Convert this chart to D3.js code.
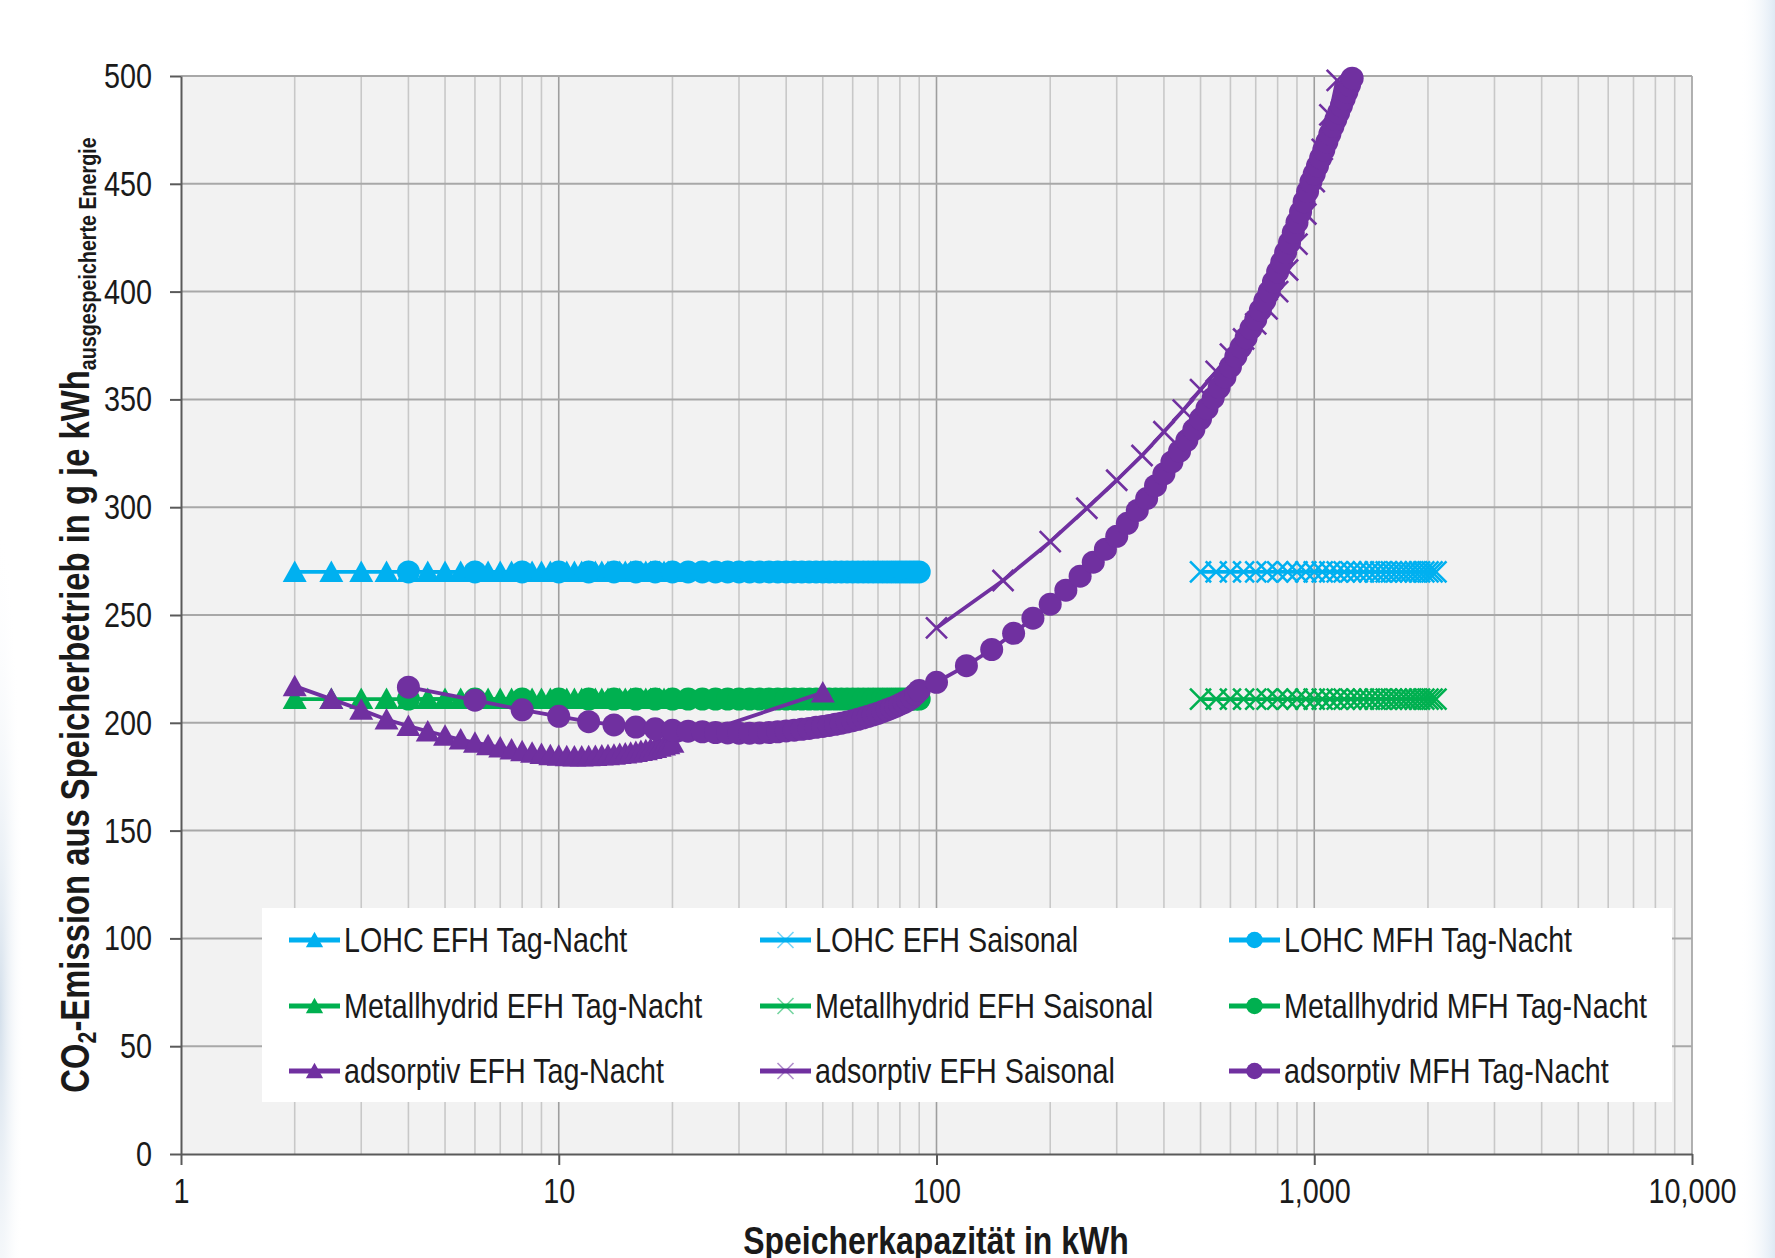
<!DOCTYPE html>
<html>
<head>
<meta charset="utf-8">
<script src="https://d3js.org/d3.v7.min.js"></script>
<title>CO2-Emission aus Speicherbetrieb</title>
<style>
body { margin: 0; background: #fff; }
svg { display: block; }
text { font-family: "Liberation Sans Narrow", "Arial Narrow", "Liberation Sans", sans-serif; fill: #1a1a1a; }
</style>
</head>
<body>
<svg width="1775" height="1258"></svg>
<script>

// ---- data ----
let xTicks = [1, 10, 100, 1000, 10000];
let yTicks = [0, 50, 100, 150, 200, 250, 300, 350, 400, 450, 500];

// EFH Tag-Nacht (triangles)
let xEfhTagNacht = [2, 2.5, 3, 3.5, 4, 4.5, 5, 5.5, 6, 6.5, 7, 7.5, 8, 8.5, 9, 9.5, 10, 10.5, 11, 11.5,
  12, 12.5, 13, 13.5, 14, 14.5, 15, 15.5, 16, 16.5, 17, 17.5, 18, 18.5, 19, 19.5, 20, 50];
let lohcEfhTagNacht = [270, 270, 270, 270, 270, 270, 270, 270, 270, 270, 270, 270, 270, 270, 270, 270, 270, 270, 270, 270,
  270, 270, 270, 270, 270, 270, 270, 270, 270, 270, 270, 270, 270, 270, 270, 270, 270, 270];
let metallEfhTagNacht = [211, 211, 211, 211, 211, 211, 211, 211, 211, 211, 211, 211, 211, 211, 211, 211, 211, 211, 211, 211,
  211, 211, 211, 211, 211, 211, 211, 211, 211, 211, 211, 211, 211, 211, 211, 211, 211, 211];
let adsEfhTagNacht = [217, 211, 206, 201.5, 198.5, 196, 194, 192.2, 190.8, 189.6, 188.5, 187.6, 186.8, 186.1, 185.5, 185, 184.7, 184.5, 184.4, 184.4,
  184.5, 184.6, 184.8, 185, 185.2, 185.5, 185.8, 186.1, 186.5, 186.9, 187.3, 187.8, 188.3, 188.9, 189.5, 190.1, 190.8, 214];

// EFH Saisonal (x markers)
let xEfhSaisonal = [500, 550, 600, 650, 700, 750, 800, 850, 900, 950, 1000, 1050, 1100, 1150, 1200, 1250, 1300,
  1350, 1400, 1450, 1500, 1550, 1600, 1650, 1700, 1750, 1800, 1850, 1900, 1950, 2000, 2050, 2100];
let lohcEfhSaisonal = [270, 270, 270, 270, 270, 270, 270, 270, 270, 270, 270, 270, 270, 270, 270, 270, 270,
  270, 270, 270, 270, 270, 270, 270, 270, 270, 270, 270, 270, 270, 270, 270, 270];
let metallEfhSaisonal = [211, 211, 211, 211, 211, 211, 211, 211, 211, 211, 211, 211, 211, 211, 211, 211, 211,
  211, 211, 211, 211, 211, 211, 211, 211, 211, 211, 211, 211, 211, 211, 211, 211];
let xAdsEfhSaisonal = [100, 150, 200, 250, 300, 350, 400, 450, 500, 550, 600, 650, 700, 750, 800, 850, 900,
  950, 1000, 1050, 1100, 1150];
let adsEfhSaisonal = [244, 266, 284, 299.5, 312.5, 324, 335, 345, 354.5, 363, 371, 378, 385, 392, 400, 410, 422,
  436, 451, 466, 482, 498];

// MFH Tag-Nacht (circles)
let xMfhTagNacht = [4, 6, 8, 10, 12, 14, 16, 18, 20, 22, 24, 26, 28, 30, 32, 34, 36, 38, 40, 42, 44, 46, 48, 50,
  52, 54, 56, 58, 60, 62, 64, 66, 68, 70, 72, 74, 76, 78, 80, 82, 84, 86, 88, 90];
let lohcMfhTagNacht = [270, 270, 270, 270, 270, 270, 270, 270, 270, 270, 270, 270, 270, 270, 270, 270, 270, 270, 270, 270, 270, 270,
  270, 270, 270, 270, 270, 270, 270, 270, 270, 270, 270, 270, 270, 270, 270, 270, 270, 270, 270, 270, 270, 270];
let metallMfhTagNacht = [211, 211, 211, 211, 211, 211, 211, 211, 211, 211, 211, 211, 211, 211, 211, 211, 211, 211, 211, 211, 211, 211,
  211, 211, 211, 211, 211, 211, 211, 211, 211, 211, 211, 211, 211, 211, 211, 211, 211, 211, 211, 211, 211, 211];
let xAdsMfhUpper = [100, 120, 140, 160, 180, 200, 220, 240, 260, 280, 300, 320, 340, 360, 380, 400, 420, 440, 460, 480,
  500, 520, 540, 560, 580, 600, 620, 640, 660, 680, 700, 720, 740, 760, 780, 800, 820, 840, 860, 880,
  900, 920, 940, 960, 980, 1000, 1020, 1040, 1060, 1080, 1100, 1120, 1140, 1160, 1180, 1200, 1220, 1240, 1260];
let adsMfhTagNacht = [216.5, 210.5, 206, 203, 200.5, 199, 198, 197.2, 196.5, 196.1, 195.8, 195.5, 195.3, 195.2, 195.2, 195.3, 195.5, 195.8,
  196.2, 196.6, 197, 197.4, 197.9, 198.3, 198.8, 199.3, 199.8, 200.4, 201, 201.6, 202.3, 203, 203.7, 204.4, 205.2, 206,
  206.8, 207.6, 208.5, 209.4, 210.4, 211.6, 213.3, 215,
  218.8, 226.5, 234, 241.5, 248.5, 255, 261.5, 268, 274.5, 280.5, 286.5, 292.5, 298.5, 304, 310, 315.5, 321, 326, 331, 336,
  341, 345.8, 350.7, 355.5, 360.3, 365.2, 370, 374.3, 378.6, 382.9, 387.1, 391.4, 395.7, 400, 404.5, 409.1, 413.6, 418.2, 422.7, 427.4,
  432.1, 436.9, 441.7, 446.4, 450.9, 454.6, 458.3, 462, 465.7, 469.4, 473.1, 476.6, 479.8, 483, 486.2, 489.4, 492.6, 495.8, 499];

let blue = "#00B0F0", green = "#00B050", purple = "#7030A0";

let series = [
  { name: "LOHC EFH Tag-Nacht", xs: xEfhTagNacht, ys: lohcEfhTagNacht, color: blue, marker: "tri" },
  { name: "LOHC EFH Saisonal", xs: xEfhSaisonal, ys: lohcEfhSaisonal, color: blue, marker: "x" },
  { name: "LOHC MFH Tag-Nacht", xs: xMfhTagNacht, ys: lohcMfhTagNacht, color: blue, marker: "circle" },
  { name: "Metallhydrid EFH Tag-Nacht", xs: xEfhTagNacht, ys: metallEfhTagNacht, color: green, marker: "tri" },
  { name: "Metallhydrid EFH Saisonal", xs: xEfhSaisonal, ys: metallEfhSaisonal, color: green, marker: "x" },
  { name: "Metallhydrid MFH Tag-Nacht", xs: xMfhTagNacht, ys: metallMfhTagNacht, color: green, marker: "circle" },
  { name: "adsorptiv EFH Tag-Nacht", xs: xEfhTagNacht, ys: adsEfhTagNacht, color: purple, marker: "tri" },
  { name: "adsorptiv EFH Saisonal", xs: xAdsEfhSaisonal, ys: adsEfhSaisonal, color: purple, marker: "x" },
  { name: "adsorptiv MFH Tag-Nacht", xs: xMfhTagNacht.concat(xAdsMfhUpper), ys: adsMfhTagNacht, color: purple, marker: "circle" }
];

// ---- layout ----
let plotLeft = 181, plotRight = 1692, plotTop = 76, plotBottom = 1154;

let x = d3.scaleLog().domain([1, 10000]).range([plotLeft, plotRight]);
let y = d3.scaleLinear().domain([0, 500]).range([plotBottom, plotTop]);

let svg = d3.select("svg");
let defs = svg.append("defs");

defs.append("clipPath").attr("id", "plotClip")
  .append("rect").attr("x", plotLeft).attr("y", plotTop - 14)
  .attr("width", plotRight - plotLeft).attr("height", plotBottom - plotTop + 14);

// soft haze at the page edges
let gl = defs.append("radialGradient").attr("id", "hazeL")
  .attr("cx", "0%").attr("cy", "70%").attr("r", "60%");
gl.append("stop").attr("offset", "0%").attr("stop-color", "#cfdce9").attr("stop-opacity", 0.9);
gl.append("stop").attr("offset", "100%").attr("stop-color", "#ffffff").attr("stop-opacity", 0);
let gr = defs.append("linearGradient").attr("id", "hazeR");
gr.append("stop").attr("offset", "0%").attr("stop-color", "#ffffff").attr("stop-opacity", 0);
gr.append("stop").attr("offset", "100%").attr("stop-color", "#dbe7f3").attr("stop-opacity", 0.9);
svg.append("rect").attr("x", 0).attr("y", 440).attr("width", 40).attr("height", 818).attr("fill", "url(#hazeL)");
svg.append("rect").attr("x", 1740).attr("y", 0).attr("width", 35).attr("height", 1258).attr("fill", "url(#hazeR)");

// plot area
svg.append("rect").attr("x", plotLeft).attr("y", plotTop)
  .attr("width", plotRight - plotLeft).attr("height", plotBottom - plotTop).attr("fill", "#F2F2F2");

function isDecade(d) {
  let l = Math.log10(d);
  return Math.abs(l - Math.round(l)) < 1e-9;
}

svg.append("g").selectAll("line")
  .data(x.ticks().filter(d => d > 1))
  .join("line")
  .attr("x1", d => x(d)).attr("x2", d => x(d))
  .attr("y1", plotTop).attr("y2", plotBottom)
  .attr("stroke", d => isDecade(d) ? "#9E9E9E" : "#C8C8C8")
  .attr("stroke-width", 1.6);

svg.append("g").selectAll("line")
  .data(yTicks.filter(d => d > 0))
  .join("line")
  .attr("x1", plotLeft).attr("x2", plotRight)
  .attr("y1", d => y(d)).attr("y2", d => y(d))
  .attr("stroke", "#A8A8A8")
  .attr("stroke-width", 2);

// the narrow font is not installed, so squeeze the regular one horizontally
function narrow(sel, k) {
  sel.each(function () {
    let t = d3.select(this);
    let tx = +(t.attr("x") || 0);
    t.attr("transform", `translate(${tx},0) scale(${k},1) translate(${-tx},0)`);
  });
}

// axes
let yAxis = svg.append("g").attr("transform", `translate(${plotLeft},0)`)
  .call(d3.axisLeft(y).tickValues(yTicks).tickSize(11).tickSizeOuter(0).tickPadding(18));
let xAxis = svg.append("g").attr("transform", `translate(0,${plotBottom})`)
  .call(d3.axisBottom(x).tickValues(xTicks).tickSize(11).tickSizeOuter(0).tickPadding(12)
    .tickFormat(d3.format(",")));

[yAxis, xAxis].forEach(a => {
  a.select(".domain").attr("stroke", "#5a5a5a").attr("stroke-width", 2);
  a.selectAll(".tick line").attr("stroke", "#5a5a5a").attr("stroke-width", 2);
  a.selectAll(".tick text").attr("font-size", 36).attr("fill", "#1a1a1a")
    .attr("font-family", '"Liberation Sans Narrow", "Arial Narrow", "Liberation Sans", sans-serif')
    .call(narrow, 0.8);
});

// ---- series ----
let line = d3.line().x(d => x(d[0])).y(d => y(d[1]));
let plot = svg.append("g").attr("clip-path", "url(#plotClip)");

function drawMarker(sel, type, color, s) {
  if (type === "circle") {
    sel.append("circle").attr("r", 11.5 * s).attr("fill", color);
  } else if (type === "tri") {
    sel.append("path")
      .attr("d", `M0,${-11.5 * s}L${12 * s},${10 * s}L${-12 * s},${10 * s}Z`)
      .attr("fill", color);
  } else {
    sel.append("path")
      .attr("d", `M${-10.5 * s},${-10.5 * s}L${10.5 * s},${10.5 * s}M${-10.5 * s},${10.5 * s}L${10.5 * s},${-10.5 * s}`)
      .attr("stroke", color).attr("stroke-width", 2.6).attr("fill", "none");
  }
}

series.forEach(s => {
  let pts = s.xs.map((v, i) => [v, s.ys[i]]);
  let g = plot.append("g");
  g.append("path").datum(pts)
    .attr("d", line)
    .attr("fill", "none")
    .attr("stroke", s.color)
    .attr("stroke-width", 3.8)
    .attr("stroke-linejoin", "round");
  g.selectAll("g.m").data(pts).join("g")
    .attr("class", "m")
    .attr("transform", d => `translate(${x(d[0])},${y(d[1])})`)
    .each(function () { drawMarker(d3.select(this), s.marker, s.color, 1); });
});

// ---- legend ----
let legendCols = [289, 760, 1229];
let legendRows = [940, 1006, 1071];

svg.append("rect").attr("x", 262).attr("y", 908).attr("width", 1410).attr("height", 194).attr("fill", "#ffffff");

let leg = svg.append("g");
series.forEach((s, i) => {
  let cx = legendCols[i % 3], cy = legendRows[Math.floor(i / 3)];
  let g = leg.append("g").attr("transform", `translate(${cx},${cy})`);
  g.append("line").attr("x1", 0).attr("x2", 51).attr("y1", 0).attr("y2", 0)
    .attr("stroke", s.color).attr("stroke-width", 5);
  let m = g.append("g").attr("transform", "translate(25.5,0)");
  if (s.marker === "x") {
    m.append("path").attr("d", "M-8,-8L8,8M-8,8L8,-8")
      .attr("stroke", s.color).attr("stroke-opacity", 0.55).attr("stroke-width", 1.6).attr("fill", "none");
  } else {
    drawMarker(m, s.marker, s.color, 0.72);
  }
  g.append("text").attr("transform", "translate(55,12) scale(0.82,1)")
    .attr("font-size", 35).text(s.name);
});

// ---- titles ----
let yTitle = svg.append("text")
  .attr("transform", "translate(89,615) rotate(-90) scale(0.82,1)")
  .attr("text-anchor", "middle")
  .attr("font-weight", "bold")
  .attr("font-size", 40);
yTitle.append("tspan").text("CO");
yTitle.append("tspan").attr("font-size", 26).attr("dy", 7).text("2");
yTitle.append("tspan").attr("dy", -7).text("-Emission aus Speicherbetrieb in g je kWh");
yTitle.append("tspan").attr("font-size", 24).attr("dy", 7).text("ausgespeicherte Energie");

svg.append("text")
  .attr("transform", "translate(936,1254) scale(0.82,1)")
  .attr("text-anchor", "middle")
  .attr("font-weight", "bold")
  .attr("font-size", 39)
  .text("Speicherkapazität in kWh");

</script>
</body>
</html>
